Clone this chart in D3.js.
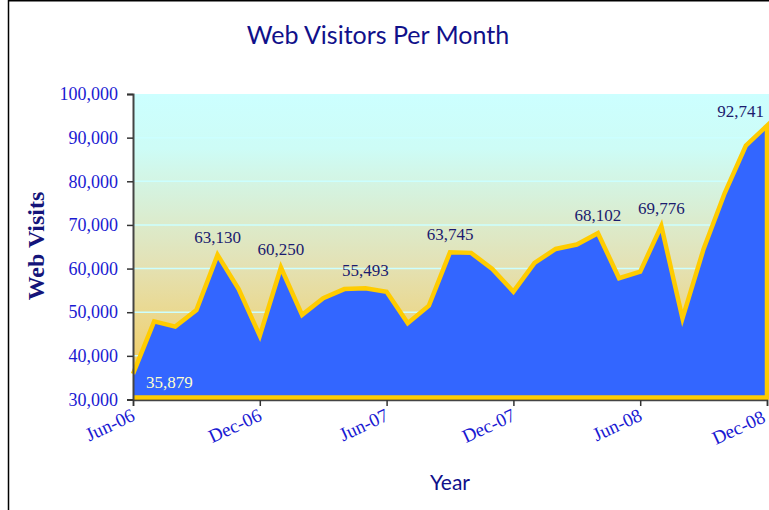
<!DOCTYPE html>
<html>
<head>
<meta charset="utf-8">
<script src="https://cdn.jsdelivr.net/npm/d3@7"></script>
<style>
  body { margin: 0; background: #fff; }
  svg { display: block; }
</style>
</head>
<body>
<div id="chartDiv"></div>
<script>
// monthly web visits, Jun-06 .. Dec-08
var months = ["Jun-06","Jul-06","Aug-06","Sep-06","Oct-06","Nov-06","Dec-06",
              "Jan-07","Feb-07","Mar-07","Apr-07","May-07","Jun-07","Jul-07",
              "Aug-07","Sep-07","Oct-07","Nov-07","Dec-07","Jan-08","Feb-08",
              "Mar-08","Apr-08","May-08","Jun-08","Jul-08","Aug-08","Sep-08",
              "Oct-08","Nov-08","Dec-08"];
var visits = [35879, 47900, 46700, 50500, 63130, 55300, 44600,
              60250, 49400, 53200, 55300, 55493, 54700, 47500,
              51500, 63745, 63600, 59900, 54700, 61300, 64500,
              65500, 68102, 57800, 59300, 69776, 48600, 64500,
              77300, 88200, 92741];
var labelMonths = ["Jun-06","Oct-06","Jan-07","May-07","Sep-07","Apr-08","Jul-08","Dec-08"];
var xTickLabels = ["Jun-06","Dec-06","Jun-07","Dec-07","Jun-08","Dec-08"];
var yTicks = [30000,40000,50000,60000,70000,80000,90000,100000];

function drawVisitsChart(){

    var data = months.map(function(m, i){ return {month: m, visits: visits[i]}; });

    var outerWidth = 769, outerHeight = 510;
    var plotLeft = 133, plotRight = 767, plotTop = 94, plotBottom = 399.5;
    var serif = "'Liberation Serif', 'Times New Roman', serif";

    var svg = d3.select("#chartDiv").append("svg")
        .attr("width", outerWidth)
        .attr("height", outerHeight);

    // chart border (cut off by the window on the right and bottom)
    svg.append("rect")
        .attr("x", 8.5).attr("y", 0.75)
        .attr("width", 900).attr("height", 700)
        .style("fill", "none")
        .style("stroke", "#000")
        .style("stroke-width", 1.5);

    var x = d3.scalePoint().domain(months).range([plotLeft, plotRight]);
    var y = d3.scaleLinear().domain([30000, 100000]).range([plotBottom, plotTop]);

    // plot background gradient
    var grad = svg.append("defs").append("linearGradient")
        .attr("id", "bgGrad")
        .attr("x1", 0).attr("y1", 0).attr("x2", 0).attr("y2", 1);
    grad.append("stop").attr("offset", "0%").attr("stop-color", "#ccffff");
    grad.append("stop").attr("offset", "18%").attr("stop-color", "#cdfcf6");
    grad.append("stop").attr("offset", "55%").attr("stop-color", "#e3e2b6");
    grad.append("stop").attr("offset", "100%").attr("stop-color", "#f6c850");

    svg.append("rect")
        .attr("x", plotLeft).attr("y", plotTop)
        .attr("width", plotRight - plotLeft + 2).attr("height", plotBottom - plotTop)
        .style("fill", "url(#bgGrad)");

    // gridlines
    svg.append("g").selectAll("line")
        .data(yTicks.slice(1, -1))
        .enter().append("line")
        .attr("x1", plotLeft).attr("x2", plotRight)
        .attr("y1", function(d){ return y(d); })
        .attr("y2", function(d){ return y(d); })
        .style("stroke", "#ccffff")
        .style("stroke-width", 1.5);

    var base = y(30000) - 2;

    var area = d3.area()
        .x(function(d){ return x(d.month); })
        .y0(base)
        .y1(function(d){ return y(d.visits); });

    var line = d3.line()
        .x(function(d){ return x(d.month); })
        .y(function(d){ return y(d.visits); });

    svg.append("path")
        .attr("d", area(data))
        .style("fill", "#3366ff");

    // shadow under the bottom edge
    svg.append("line")
        .attr("x1", plotLeft).attr("x2", plotRight + 1)
        .attr("y1", y(30000) + 0.5).attr("y2", y(30000) + 0.5)
        .style("stroke", "#7a6200")
        .style("stroke-width", 2);

    // yellow outline: top line, right edge, bottom
    var last = data[data.length - 1];
    svg.append("path")
        .attr("d", line(data) + "L" + x(last.month) + "," + base + "L" + plotLeft + "," + base)
        .style("fill", "none")
        .style("stroke", "#ffcc00")
        .style("stroke-width", 4.5)
        .style("stroke-linejoin", "miter");

    // y axis
    var yAxis = d3.axisLeft(y)
        .tickValues(yTicks)
        .tickFormat(d3.format(","))
        .tickSize(6)
        .tickPadding(9);

    var yAxisGroup = svg.append("g")
        .attr("transform", "translate(" + plotLeft + ",0)")
        .call(yAxis);
    yAxisGroup.select(".domain").style("stroke", "#444").style("stroke-width", 2);
    yAxisGroup.selectAll(".tick line").style("stroke", "#333").style("stroke-width", 1.5);
    yAxisGroup.selectAll(".tick text")
        .style("font-family", serif)
        .style("font-size", "18px")
        .style("fill", "#1a1ad2");

    // x axis
    var xAxis = d3.axisBottom(x)
        .tickValues(xTickLabels)
        .tickSize(6);

    var xAxisGroup = svg.append("g")
        .attr("transform", "translate(0," + (plotBottom + 0.5) + ")")
        .call(xAxis);
    xAxisGroup.select(".domain").style("stroke", "#444").style("stroke-width", 1.5);
    xAxisGroup.selectAll(".tick line").style("stroke", "#333").style("stroke-width", 1.5);
    xAxisGroup.selectAll(".tick text")
        .attr("x", function(d){ return d === "Dec-08" ? -1 : 3; })
        .attr("y", 0).attr("dy", 0)
        .attr("text-anchor", "end")
        .attr("transform", "translate(0,21) rotate(-25)")
        .style("font-family", serif)
        .style("font-size", "19px")
        .style("fill", "#1a1ad2");

    // data labels
    var labelled = data.filter(function(d){ return labelMonths.indexOf(d.month) >= 0; });
    svg.append("g").selectAll("text")
        .data(labelled)
        .enter().append("text")
        .attr("x", function(d){
            if (d.month === "Jun-06") return x(d.month) + 13;
            if (d.month === "Dec-08") return x(d.month) - 3;
            return x(d.month);
        })
        .attr("y", function(d){
            if (d.month === "Jun-06") return y(d.visits) + 14;
            if (d.month === "Dec-08") return y(d.visits) - 9;
            return y(d.visits) - 12;
        })
        .attr("text-anchor", function(d){
            if (d.month === "Jun-06") return "start";
            if (d.month === "Dec-08") return "end";
            return "middle";
        })
        .style("font-family", serif)
        .style("font-size", "17px")
        .style("fill", function(d){ return d.month === "Jun-06" ? "#ffffcc" : "#1b1b6e"; })
        .text(function(d){ return d3.format(",")(d.visits); });

    // titles
    svg.append("text")
        .attr("x", 378).attr("y", 44)
        .attr("text-anchor", "middle")
        .style("font-family", "Lato, 'Open Sans', sans-serif")
        .style("font-size", "25px")
        .style("fill", "#10108a")
        .text("Web Visitors Per Month");

    svg.append("text")
        .attr("transform", "translate(44,246) rotate(-90)")
        .attr("text-anchor", "middle")
        .style("font-family", serif)
        .style("font-weight", "bold")
        .style("font-size", "24px")
        .style("fill", "#14147a")
        .text("Web Visits");

    svg.append("text")
        .attr("x", 450).attr("y", 490)
        .attr("text-anchor", "middle")
        .style("font-family", "Lato, 'Open Sans', sans-serif")
        .style("font-size", "21px")
        .style("fill", "#10108a")
        .text("Year");
}

drawVisitsChart();
</script>
</body>
</html>
